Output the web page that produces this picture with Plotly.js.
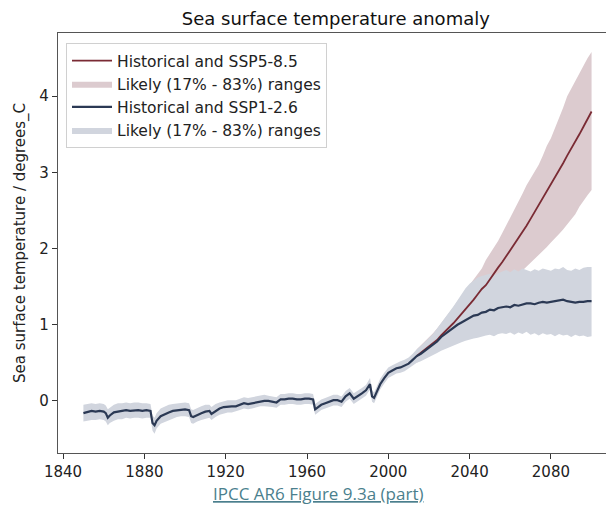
<!DOCTYPE html>
<html>
<head>
<meta charset="utf-8">
<script src="https://cdn.plot.ly/plotly-3.0.1.min.js"></script>
<style>html,body{margin:0;padding:0;background:#fff;}#chart{width:606px;height:506px;}</style>
</head>
<body>
<div id="chart"></div>
<script>
// ---- Data ----
var histYears = [
  1850,1852,1854,1856,1858,1860,1861,1862,1863,1865,
  1867,1869,1871,1873,1875,1877,1879,1881,1883,1884,
  1885,1886,1888,1890,1892,1894,1896,1898,1900,1902,
  1903,1904,1906,1908,1910,1912,1913,1915,1917,1919,
  1921,1923,1925,1927,1929,1931,1933,1935,1937,1939,
  1941,1943,1945,1947,1949,1951,1953,1955,1957,1959,
  1961,1963,1964,1965,1967,1969,1971,1973,1975,1977,
  1979,1981,1983,1985,1987,1989,1991,1992,1993,1994,
  1996,1998,2000,2002,2004,2006,2008,2010,2012,2014];
var histMean = [
  -0.16,-0.15,-0.13,-0.14,-0.13,-0.14,-0.16,-0.22,-0.19,-0.15,
  -0.14,-0.13,-0.12,-0.13,-0.12,-0.12,-0.13,-0.12,-0.13,-0.29,
  -0.32,-0.26,-0.20,-0.17,-0.15,-0.13,-0.12,-0.11,-0.11,-0.12,
  -0.20,-0.21,-0.18,-0.16,-0.14,-0.13,-0.17,-0.13,-0.10,-0.08,
  -0.07,-0.07,-0.07,-0.05,-0.03,-0.04,-0.03,-0.02,0.00,0.00,
  0.00,-0.01,-0.02,0.02,0.02,0.03,0.03,0.02,0.02,0.03,
  0.03,0.02,-0.11,-0.09,-0.05,-0.03,-0.01,0.01,0.01,-0.01,
  0.06,0.10,0.03,0.06,0.10,0.14,0.22,0.06,0.04,0.10,
  0.22,0.30,0.37,0.40,0.43,0.44,0.46,0.49,0.54,0.59];
var histLow = [
  -0.27,-0.26,-0.25,-0.25,-0.24,-0.25,-0.27,-0.32,-0.29,-0.26,
  -0.24,-0.24,-0.22,-0.23,-0.22,-0.22,-0.23,-0.22,-0.22,-0.39,
  -0.43,-0.36,-0.30,-0.27,-0.25,-0.23,-0.21,-0.20,-0.20,-0.21,
  -0.29,-0.30,-0.27,-0.25,-0.23,-0.22,-0.25,-0.21,-0.18,-0.16,
  -0.15,-0.15,-0.14,-0.12,-0.10,-0.11,-0.10,-0.09,-0.07,-0.07,
  -0.07,-0.08,-0.09,-0.05,-0.05,-0.04,-0.04,-0.05,-0.05,-0.04,
  -0.04,-0.05,-0.18,-0.16,-0.12,-0.10,-0.08,-0.06,-0.06,-0.08,
  -0.01,0.03,-0.04,-0.01,0.03,0.07,0.15,-0.01,-0.03,0.03,
  0.15,0.23,0.30,0.33,0.36,0.37,0.39,0.42,0.46,0.50];
var histHigh = [
  -0.05,-0.04,-0.03,-0.04,-0.03,-0.04,-0.06,-0.11,-0.09,-0.05,
  -0.03,-0.03,-0.02,-0.03,-0.02,-0.02,-0.03,-0.03,-0.04,-0.19,
  -0.22,-0.16,-0.10,-0.07,-0.05,-0.04,-0.03,-0.02,-0.02,-0.03,
  -0.11,-0.12,-0.09,-0.07,-0.05,-0.05,-0.08,-0.04,-0.02,0.00,
  0.01,0.01,0.01,0.03,0.05,0.04,0.05,0.06,0.07,0.08,
  0.07,0.06,0.05,0.09,0.09,0.10,0.10,0.09,0.09,0.10,
  0.10,0.09,-0.04,-0.02,0.02,0.04,0.06,0.08,0.08,0.06,
  0.13,0.17,0.10,0.13,0.17,0.21,0.30,0.14,0.11,0.17,
  0.29,0.37,0.44,0.47,0.50,0.52,0.54,0.57,0.62,0.68];

var sspYears = [
  2014,2016,2018,2020,2022,2024,2026,2028,2030,2032,
  2034,2036,2038,2040,2042,2044,2046,2048,2050,2052,
  2054,2056,2058,2060,2062,2064,2066,2068,2070,2072,
  2074,2076,2078,2080,2082,2084,2086,2088,2090,2092,
  2094,2096,2098,2100];
var ssp126Mean = [
  0.59,0.62,0.66,0.70,0.74,0.78,0.84,0.88,0.93,0.96,
  1.00,1.03,1.06,1.09,1.12,1.13,1.16,1.17,1.20,1.19,
  1.22,1.23,1.24,1.23,1.26,1.25,1.27,1.28,1.28,1.27,
  1.29,1.30,1.29,1.30,1.31,1.32,1.33,1.31,1.30,1.29,
  1.30,1.30,1.31,1.31];
var ssp126High = [
  0.68,0.72,0.77,0.83,0.88,0.95,1.02,1.09,1.16,1.24,
  1.32,1.40,1.48,1.54,1.58,1.62,1.64,1.66,1.67,1.65,
  1.68,1.70,1.72,1.69,1.73,1.70,1.74,1.72,1.70,1.73,
  1.71,1.74,1.72,1.71,1.74,1.73,1.76,1.72,1.71,1.74,
  1.72,1.75,1.76,1.76];
var ssp126Low = [
  0.50,0.52,0.55,0.58,0.60,0.63,0.66,0.69,0.71,0.73,
  0.75,0.77,0.79,0.81,0.82,0.83,0.85,0.86,0.87,0.85,
  0.88,0.89,0.88,0.90,0.87,0.90,0.88,0.91,0.87,0.89,
  0.86,0.89,0.87,0.88,0.85,0.88,0.86,0.87,0.84,0.87,
  0.85,0.86,0.84,0.85];
var ssp585Mean = [
  0.59,0.63,0.67,0.71,0.76,0.80,0.86,0.91,0.96,1.02,
  1.08,1.14,1.20,1.27,1.33,1.40,1.47,1.52,1.60,1.67,
  1.75,1.82,1.90,1.98,2.05,2.14,2.22,2.30,2.39,2.48,
  2.57,2.67,2.75,2.84,2.93,3.02,3.12,3.22,3.31,3.40,
  3.50,3.60,3.70,3.80];
var ssp585High = [
  0.68,0.73,0.78,0.84,0.89,0.95,1.02,1.08,1.16,1.23,
  1.31,1.38,1.45,1.52,1.60,1.66,1.74,1.85,1.93,2.01,
  2.10,2.20,2.30,2.40,2.50,2.60,2.72,2.83,2.92,3.00,
  3.10,3.22,3.35,3.45,3.58,3.70,3.85,4.00,4.10,4.20,
  4.30,4.40,4.50,4.58];
var ssp585Low = [
  0.50,0.53,0.57,0.60,0.64,0.67,0.71,0.75,0.79,0.83,
  0.87,0.92,0.96,1.01,1.05,1.10,1.15,1.20,1.25,1.30,
  1.36,1.42,1.48,1.54,1.60,1.66,1.71,1.76,1.81,1.86,
  1.92,1.97,2.02,2.08,2.14,2.19,2.25,2.31,2.38,2.45,
  2.55,2.62,2.70,2.77];

var titleText = 'Sea surface temperature anomaly';
var yTitleText = 'Sea surface temperature / degrees_C';
var captionText = 'IPCC AR6 Figure 9.3a (part)';
var name585 = 'Historical and SSP5-8.5';
var name126 = 'Historical and SSP1-2.6';
var rangeName = 'Likely (17% - 83%) ranges';

// ---- Build traces ----
function band(xs, lo, hi) {
  return { x: xs.concat(xs.slice().reverse()), y: hi.concat(lo.slice().reverse()) };
}
var redBand = band(sspYears, ssp585Low, ssp585High);
var blueYears = histYears.concat(sspYears.slice(1));
var blueBand = band(blueYears, histLow.concat(ssp126Low.slice(1)), histHigh.concat(ssp126High.slice(1)));

var RED = '#7a2b34', REDFILL = '#dccbcf', BLUE = '#2b3954', BLUEFILL = '#d1d5de';

var traces = [
  { type: 'scatter', mode: 'lines', x: redBand.x, y: redBand.y, fill: 'toself',
    fillcolor: REDFILL, line: { width: 0, color: REDFILL }, name: rangeName, legendrank: 2, hoverinfo: 'skip' },
  { type: 'scatter', mode: 'lines', x: blueBand.x, y: blueBand.y, fill: 'toself',
    fillcolor: BLUEFILL, line: { width: 0, color: BLUEFILL }, name: rangeName, legendrank: 4, hoverinfo: 'skip' },
  { type: 'scatter', mode: 'lines', x: sspYears, y: ssp585Mean,
    line: { color: RED, width: 1.8 }, name: name585, legendrank: 1 },
  { type: 'scatter', mode: 'lines', x: blueYears, y: histMean.concat(ssp126Mean.slice(1)),
    line: { color: BLUE, width: 2.2 }, name: name126, legendrank: 3 }
];

var FONT = 'DejaVu Sans, sans-serif';
var layout = {
  width: 606, height: 506,
  margin: { l: 58, r: 0, t: 33, b: 53, pad: 0 },
  paper_bgcolor: '#ffffff', plot_bgcolor: '#ffffff',
  font: { family: FONT, size: 15, color: '#222' },
  title: { text: titleText, font: { family: FONT, size: 18, color: '#111' },
    x: 0.507, xref: 'paper', xanchor: 'center', y: 1 - 19 / 506, yref: 'container', yanchor: 'middle' },
  xaxis: {
    range: [1837.5, 2107.1], tickmode: 'linear', tick0: 1840, dtick: 40,
    ticks: 'outside', ticklen: 5, tickwidth: 1, tickcolor: '#333',
    showline: true, linecolor: '#555', linewidth: 1.3, mirror: true,
    showgrid: false, zeroline: false, tickformat: 'd',
    tickfont: { family: FONT, size: 15, color: '#222' }
  },
  yaxis: {
    range: [-0.683, 4.83], tickmode: 'linear', tick0: 0, dtick: 1,
    ticks: 'outside', ticklen: 5, tickwidth: 1, tickcolor: '#333',
    showline: true, linecolor: '#555', linewidth: 1.3, mirror: false,
    showgrid: false, zeroline: false,
    tickfont: { family: FONT, size: 15, color: '#222' },
    title: { text: yTitleText, font: { family: FONT, size: 15, color: '#222' }, standoff: 10 }
  },
  showlegend: true,
  legend: {
    x: 0.0146, y: 0.976, xanchor: 'left', yanchor: 'top',
    bgcolor: 'rgba(255,255,255,0.9)', bordercolor: '#d0d0d0', borderwidth: 1,
    font: { family: FONT, size: 15.5, color: '#222' }, traceorder: 'normal', tracegroupgap: 0,
    itemwidth: 40
  },
  annotations: [{
    text: '<u>' + captionText + '</u>', xref: 'paper', yref: 'paper',
    x: (318 - 58) / 548, y: -(493 - 453) / 420, xanchor: 'center', yanchor: 'middle',
    showarrow: false, font: { family: 'Open Sans, sans-serif', size: 17, color: '#4b7f8d' }
  }]
};

Plotly.newPlot('chart', traces, layout, { staticPlot: true, displayModeBar: false });
</script>
</body>
</html>
